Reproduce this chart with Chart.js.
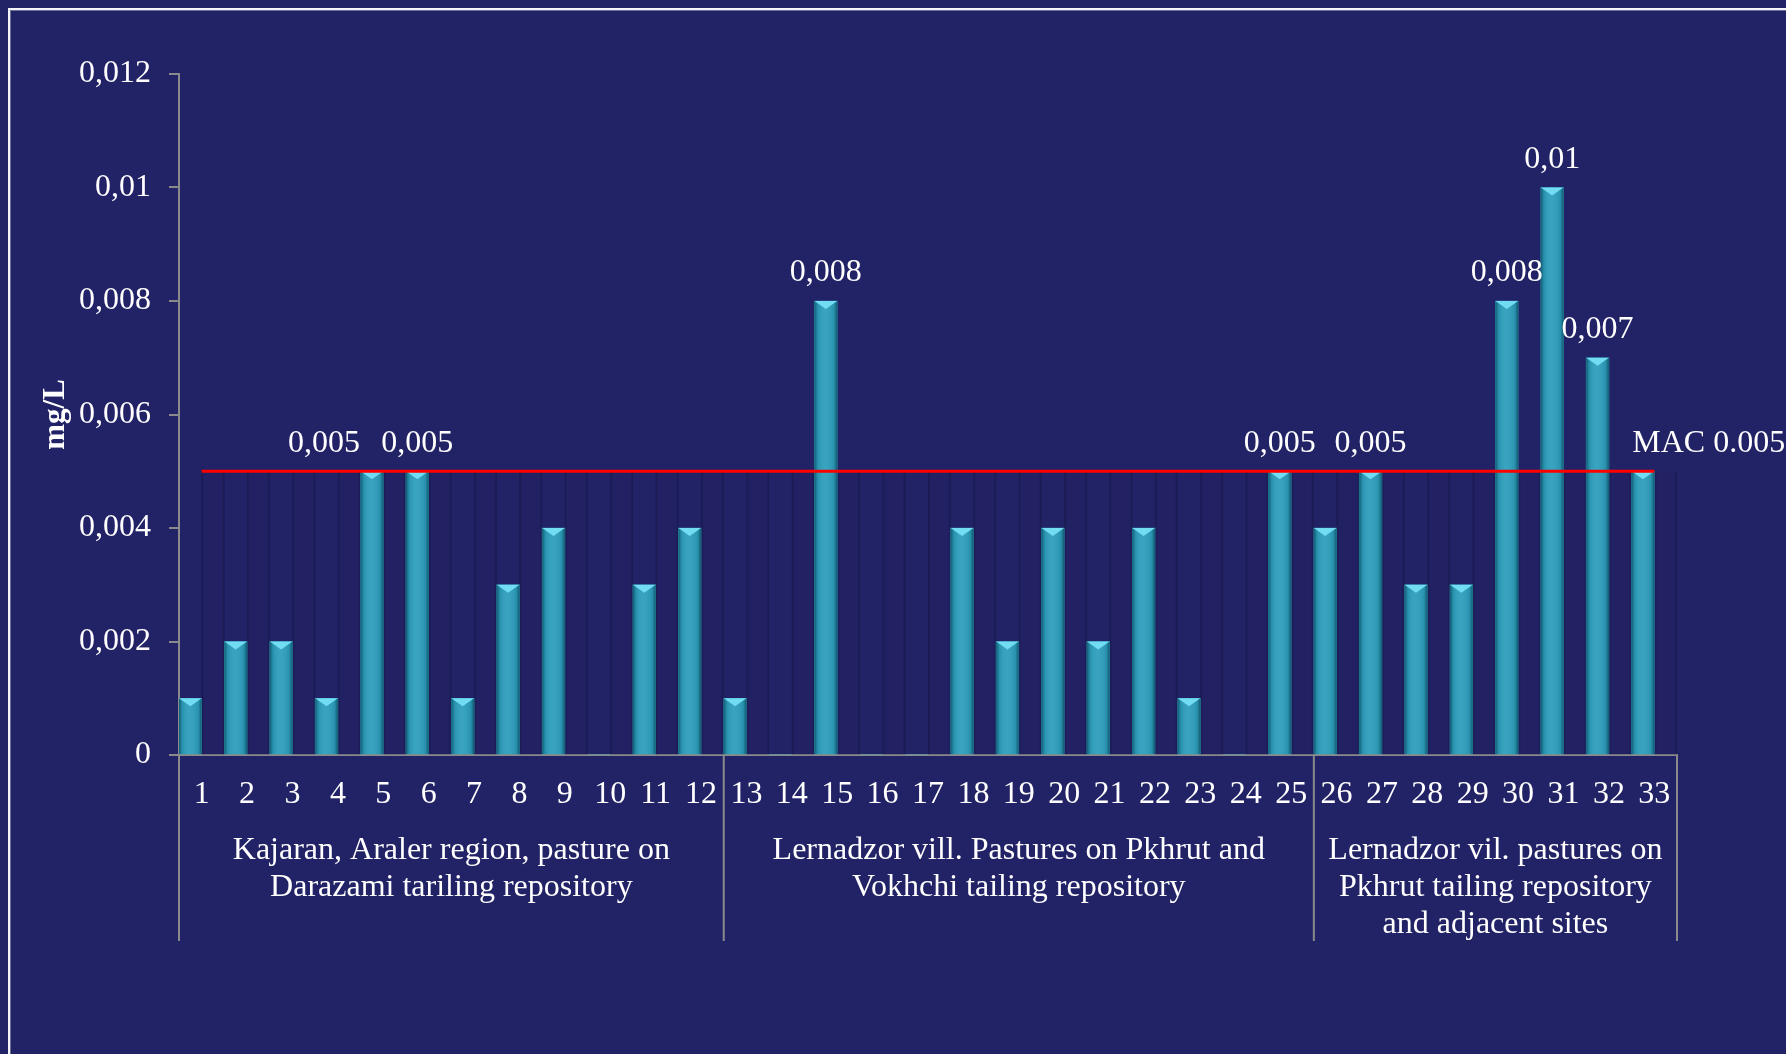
<!DOCTYPE html>
<html lang="en">
<head>
<meta charset="UTF-8">
<title>mg/L by sampling site</title>
<script src="https://cdn.jsdelivr.net/npm/chart.js"></script>
<style>
  * { box-sizing: border-box; margin: 0; padding: 0; }
  html, body { width: 1786px; height: 1054px; overflow: hidden; background: #222266; }
  .wrap { position: relative; width: 1786px; height: 1054px; }
  .frame {
    position: absolute; left: 8px; top: 8px; width: 1800px; height: 1070px;
    border-left: 2px solid #f4f4f8; border-top: 2px solid #f4f4f8;
    box-shadow: inset 1px 1px 0 #6e6e9c;
    pointer-events: none;
  }
</style>
</head>
<body>
<div class="wrap">
  <canvas id="chart"></canvas>
  <div class="frame"></div>
</div>
<script>
// sample numbers along the x axis
const categories = ['1', '2', '3', '4', '5', '6', '7', '8', '9', '10', '11', '12',
  '13', '14', '15', '16', '17', '18', '19', '20', '21', '22', '23', '24', '25',
  '26', '27', '28', '29', '30', '31', '32', '33'];

// measured concentration, mg/L
const values = [0.001, 0.002, 0.002, 0.001, 0.005, 0.005, 0.001, 0.003, 0.004, 0, 0.003, 0.004,
  0.001, 0, 0.008, 0, 0, 0.004, 0.002, 0.004, 0.002, 0.004, 0.001, 0, 0.005,
  0.004, 0.005, 0.003, 0.003, 0.008, 0.01, 0.007, 0.005];

// maximum admissible concentration
const macValues = [0.005, 0.005, 0.005, 0.005, 0.005, 0.005, 0.005, 0.005, 0.005, 0.005, 0.005,
  0.005, 0.005, 0.005, 0.005, 0.005, 0.005, 0.005, 0.005, 0.005, 0.005, 0.005, 0.005,
  0.005, 0.005, 0.005, 0.005, 0.005, 0.005, 0.005, 0.005, 0.005, 0.005];
const macLabel = 'MAC 0.005';

const yTickLabels = ['0', '0,002', '0,004', '0,006', '0,008', '0,01', '0,012'];

// second level of the x axis
const groupSizes = [12, 13, 8];
const groupLabels = [
  ['Kajaran, Araler region, pasture on', 'Darazami tariling repository'],
  ['Lernadzor vill. Pastures on Pkhrut and', 'Vokhchi tailing repository'],
  ['Lernadzor vil. pastures on', 'Pkhrut tailing repository', 'and adjacent sites'],
];

const FONT = "'Liberation Serif', 'Times New Roman', serif";
const AXIS_GREY = '#8a8a8a';
const BAR_COLOR = '#2c9ebc';
const BG = '#222266';

const decor = {
  id: 'decor',
  afterDatasetDraw(chart, args) {
    const ctx = chart.ctx;
    const meta = args.meta;
    if (meta.type !== 'bar') return;
    ctx.save();
    meta.data.forEach((bar) => {
      const { x, y, base, width } = bar.getProps(['x', 'y', 'base', 'width'], true);
      const h = base - y;
      if (h < 1) return;
      const l = x - width / 2, r = x + width / 2;
      const g = ctx.createLinearGradient(l, 0, r, 0);
      if (args.index === 0) {
        g.addColorStop(0, 'rgba(12,70,90,0.75)');
        g.addColorStop(0.14, 'rgba(12,70,90,0.15)');
        g.addColorStop(0.45, 'rgba(255,255,255,0.06)');
        g.addColorStop(0.86, 'rgba(12,70,90,0.15)');
        g.addColorStop(1, 'rgba(12,70,90,0.8)');
        ctx.fillStyle = g;
        ctx.fillRect(l, y, width, h);
        // bevelled top
        const bh = Math.min(8, h / 2);
        ctx.beginPath();
        ctx.moveTo(l, y);
        ctx.lineTo(r, y);
        ctx.lineTo(x, y + bh);
        ctx.closePath();
        ctx.fillStyle = '#72dcf3';
        ctx.fill();
      } else {
        g.addColorStop(0, 'rgba(14,14,52,0.45)');
        g.addColorStop(0.12, 'rgba(14,14,52,0.05)');
        g.addColorStop(0.88, 'rgba(14,14,52,0.05)');
        g.addColorStop(1, 'rgba(14,14,52,0.45)');
        ctx.fillStyle = g;
        ctx.fillRect(l, y, width, h);
      }
    });
    ctx.restore();
  },
  afterDraw(chart) {
    const ctx = chart.ctx;
    const xs = chart.scales.x;
    const area = chart.chartArea;
    ctx.save();
    ctx.fillStyle = '#ffffff';
    ctx.font = '32px ' + FONT;
    ctx.textAlign = 'center';
    ctx.textBaseline = 'middle';

    // value labels on bars at or above the MAC
    const bars = chart.getDatasetMeta(0).data;
    const labelShift = { 4: -48 };
    values.forEach((v, i) => {
      if (v < macValues[i] || i === values.length - 1) return;
      const bar = bars[i];
      ctx.fillText(String(v).replace('.', ','), bar.x + (labelShift[i] || 0), bar.y - 28);
    });

    // MAC label at the end of the red line
    const pts = chart.getDatasetMeta(2).data;
    const last = pts[pts.length - 1];
    ctx.textAlign = 'left';
    ctx.fillText(macLabel, last.x - 22, last.y - 28);

    // group separators and group names
    const bounds = [area.left];
    let idx = 0;
    groupSizes.forEach((n, gi) => {
      idx += n;
      if (gi < groupSizes.length - 1) {
        bounds.push((xs.getPixelForValue(idx - 1) + xs.getPixelForValue(idx)) / 2);
      } else {
        bounds.push(area.right);
      }
    });
    ctx.strokeStyle = AXIS_GREY;
    ctx.lineWidth = 2;
    bounds.forEach((bx) => {
      ctx.beginPath();
      ctx.moveTo(bx, area.bottom);
      ctx.lineTo(bx, area.bottom + 186);
      ctx.stroke();
    });
    ctx.textAlign = 'center';
    ctx.textBaseline = 'alphabetic';
    groupLabels.forEach((lines, gi) => {
      const cx = (bounds[gi] + bounds[gi + 1]) / 2;
      lines.forEach((line, li) => {
        ctx.fillText(line, cx, area.bottom + 104 + li * 37);
      });
    });
    ctx.restore();
  }
};

const ctx = document.getElementById('chart').getContext('2d');
Chart.defaults.font.family = FONT;
Chart.defaults.color = '#ffffff';

new Chart(ctx, {
  type: 'bar',
  data: {
    labels: categories,
    datasets: [
      {
        label: 'mg/L',
        data: values,
        backgroundColor: BAR_COLOR,
        borderWidth: 0,
        categoryPercentage: 1,
        barPercentage: 1,
        order: 1,
      },
      {
        label: 'MAC band',
        data: macValues,
        backgroundColor: BG,
        borderWidth: 0,
        categoryPercentage: 1,
        barPercentage: 1,
        order: 2,
      },
      {
        type: 'line',
        label: macLabel,
        data: macValues,
        borderColor: '#ff0000',
        borderWidth: 3,
        pointRadius: 0,
        fill: false,
        order: 0,
      },
    ],
  },
  options: {
    responsive: true,
    maintainAspectRatio: false,
    animation: false,
    events: [],
    layout: { padding: { top: 74, right: 109, bottom: 0, left: 0 } },
    plugins: {
      legend: { display: false },
      tooltip: { enabled: false },
    },
    scales: {
      x: {
        grid: { display: false, drawTicks: false },
        border: { display: true, color: AXIS_GREY, width: 2 },
        ticks: {
          color: '#ffffff',
          font: { size: 32 },
          padding: 20,
          maxRotation: 0,
          autoSkip: false,
        },
        afterFit(scale) { scale.height = 299; },
      },
      y: {
        min: 0,
        max: 0.012,
        ticks: {
          stepSize: 0.002,
          color: '#ffffff',
          font: { size: 32 },
          padding: 18,
          callback: (value, index) => yTickLabels[index],
        },
        grid: {
          drawOnChartArea: false,
          drawTicks: true,
          tickLength: 10,
          color: AXIS_GREY,
          lineWidth: 2,
        },
        border: { display: true, color: AXIS_GREY, width: 2 },
        title: {
          display: true,
          text: 'mg/L',
          color: '#ffffff',
          font: { size: 31, weight: 'bold' },
          padding: { top: 37, bottom: 0 },
        },
        afterFit(scale) { scale.width = 179; },
      },
    },
  },
  plugins: [decor],
});
</script>
</body>
</html>
